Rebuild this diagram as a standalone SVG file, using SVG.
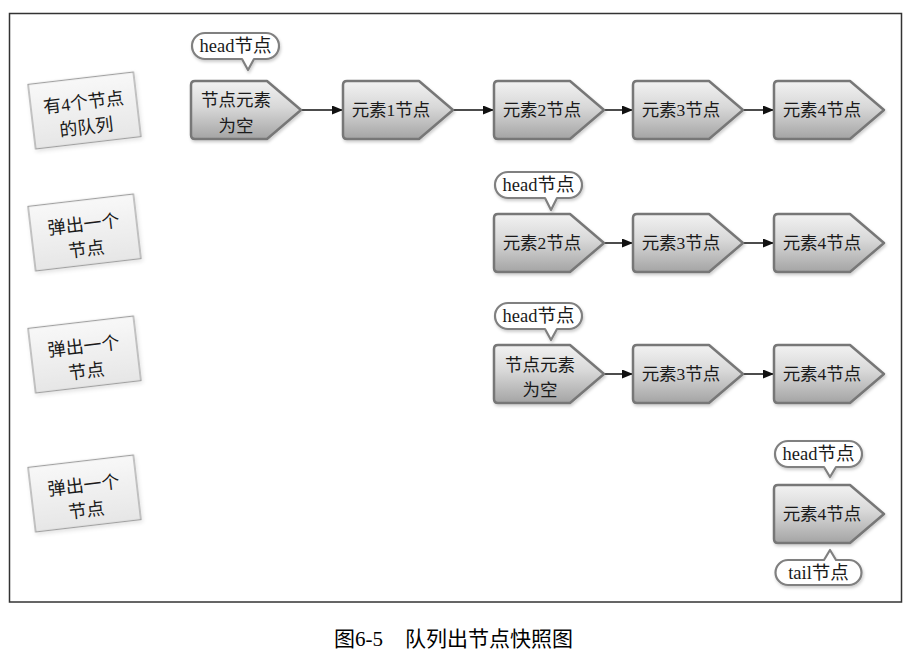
<svg xmlns="http://www.w3.org/2000/svg" width="908" height="658" viewBox="0 0 908 658">
<style>
text{font-family:"Liberation Serif","Noto Sans CJK SC",serif;fill:#1a1a1a;dominant-baseline:central;text-anchor:middle}
.node use{fill:url(#nodeGrad);stroke:#777;stroke-width:2.5;stroke-linejoin:round;filter:url(#sh)}
.node text{font-size:17.5px}
.bubble path{fill:#fff;stroke:#808080;stroke-width:2.2;stroke-linejoin:round;filter:url(#sh)}
.bubble text{font-size:18.5px}
.label rect{fill:url(#labelGrad);stroke:#a0a0a0;stroke-width:1.2;filter:url(#sh2)}
.label text{font-size:18px}
.conn line{stroke:#111;stroke-width:1.5;marker-end:url(#arr)}
.cap{font-size:21px;text-anchor:start;dominant-baseline:alphabetic;fill:#000}
</style>
<defs>
<linearGradient id="nodeGrad" x1="0" y1="0" x2="0" y2="1">
<stop offset="0" stop-color="#f2f2f2"/>
<stop offset="0.45" stop-color="#d8d8d8"/>
<stop offset="1" stop-color="#a4a4a4"/>
</linearGradient>
<linearGradient id="labelGrad" x1="0" y1="0" x2="0" y2="1">
<stop offset="0" stop-color="#f8f8f8"/>
<stop offset="1" stop-color="#e6e6e6"/>
</linearGradient>
<filter id="sh" x="-10%" y="-10%" width="130%" height="140%">
<feDropShadow dx="1" dy="2" stdDeviation="1.5" flood-color="#000" flood-opacity="0.2"/>
</filter>
<filter id="sh2" x="-10%" y="-10%" width="130%" height="140%">
<feDropShadow dx="1" dy="2" stdDeviation="2" flood-color="#000" flood-opacity="0.12"/>
</filter>
<marker id="arr" markerUnits="userSpaceOnUse" markerWidth="12" markerHeight="10" refX="11" refY="4.5" orient="auto">
<path d="M0,0 L11,4.5 L0,9 Z" fill="#111"/>
</marker>
<path id="shape" d="M4,0 H76 L110,29 L76,58 H4 Q0,58 0,54 V4 Q0,0 4,0 Z"/>
</defs>

<rect x="9.5" y="13.5" width="892" height="588.5" fill="#fff" stroke="#333" stroke-width="1.5"/>

<!-- left labels -->
<g id="label1" class="label" transform="translate(84.5,110.5) rotate(-6.7)">
<rect x="-53" y="-32.5" width="106" height="65"/>
<text x="0" y="-8">有4个节点</text>
<text x="0" y="17">的队列</text>
</g>
<g id="label2" class="label" transform="translate(84.5,232.5) rotate(-6.7)">
<rect x="-53" y="-32.5" width="106" height="65"/>
<text x="0" y="-8">弹出一个</text>
<text x="0" y="17">节点</text>
</g>
<g id="label3" class="label" transform="translate(84.5,354.5) rotate(-6.7)">
<rect x="-53" y="-32.5" width="106" height="65"/>
<text x="0" y="-8">弹出一个</text>
<text x="0" y="17">节点</text>
</g>
<g id="label4" class="label" transform="translate(84.5,493.5) rotate(-6.7)">
<rect x="-53" y="-32.5" width="106" height="65"/>
<text x="0" y="-8">弹出一个</text>
<text x="0" y="17">节点</text>
</g>

<!-- connectors -->
<g id="connectors" class="conn">
<line x1="301" y1="110" x2="343" y2="110"/>
<line x1="453" y1="110" x2="494" y2="110"/>
<line x1="604" y1="110" x2="633" y2="110"/>
<line x1="743" y1="110" x2="774" y2="110"/>
<line x1="604" y1="243" x2="633" y2="243"/>
<line x1="743" y1="243" x2="774" y2="243"/>
<line x1="604" y1="374" x2="633" y2="374"/>
<line x1="743" y1="374" x2="774" y2="374"/>
</g>

<!-- row 1 -->
<g id="r1-head" class="bubble">
<path d="M205,33 H266 A13,13 0 0 1 266,59 H254 L248,70 L242,59 H205 A13,13 0 0 1 205,33 Z"/>
<text x="235.5" y="46">head节点</text>
</g>
<g id="r1-n0" class="node" transform="translate(191,81)">
<use href="#shape"/>
<text x="45" y="19">节点元素</text>
<text x="45" y="45">为空</text>
</g>
<g id="r1-n1" class="node" transform="translate(343,81)">
<use href="#shape"/>
<text x="48" y="29">元素1节点</text>
</g>
<g id="r1-n2" class="node" transform="translate(494,81)">
<use href="#shape"/>
<text x="48" y="29">元素2节点</text>
</g>
<g id="r1-n3" class="node" transform="translate(633,81)">
<use href="#shape"/>
<text x="48" y="29">元素3节点</text>
</g>
<g id="r1-n4" class="node" transform="translate(774,81)">
<use href="#shape"/>
<text x="48" y="29">元素4节点</text>
</g>

<!-- row 2 -->
<g id="r2-head" class="bubble">
<path d="M508,172 H569 A13,13 0 0 1 569,198 H557 L551,210 L545,198 H508 A13,13 0 0 1 508,172 Z"/>
<text x="538.5" y="185">head节点</text>
</g>
<g id="r2-n2" class="node" transform="translate(494,214)">
<use href="#shape"/>
<text x="48" y="29">元素2节点</text>
</g>
<g id="r2-n3" class="node" transform="translate(633,214)">
<use href="#shape"/>
<text x="48" y="29">元素3节点</text>
</g>
<g id="r2-n4" class="node" transform="translate(774,214)">
<use href="#shape"/>
<text x="48" y="29">元素4节点</text>
</g>

<!-- row 3 -->
<g id="r3-head" class="bubble">
<path d="M508,303 H569 A13,13 0 0 1 569,329 H557 L551,340 L545,329 H508 A13,13 0 0 1 508,303 Z"/>
<text x="538.5" y="316">head节点</text>
</g>
<g id="r3-n0" class="node" transform="translate(494,345)">
<use href="#shape"/>
<text x="46" y="20">节点元素</text>
<text x="46" y="45">为空</text>
</g>
<g id="r3-n3" class="node" transform="translate(633,345)">
<use href="#shape"/>
<text x="48" y="29">元素3节点</text>
</g>
<g id="r3-n4" class="node" transform="translate(774,345)">
<use href="#shape"/>
<text x="48" y="29">元素4节点</text>
</g>

<!-- row 4 -->
<g id="r4-head" class="bubble">
<path d="M788,441 H849 A13,13 0 0 1 849,467 H836 L830,477 L824,467 H788 A13,13 0 0 1 788,441 Z"/>
<text x="818.5" y="454">head节点</text>
</g>
<g id="r4-n4" class="node" transform="translate(774,485)">
<use href="#shape"/>
<text x="48" y="29">元素4节点</text>
</g>
<g id="r4-tail" class="bubble">
<path d="M788,560 H824 L830,550 L836,560 H849 A12.5,12.5 0 0 1 849,585 H788 A12.5,12.5 0 0 1 788,560 Z"/>
<text x="818.5" y="572.5">tail节点</text>
</g>

<text class="cap" x="334" y="646">图6-5</text>
<text class="cap" x="405" y="646">队列出节点快照图</text>
</svg>
